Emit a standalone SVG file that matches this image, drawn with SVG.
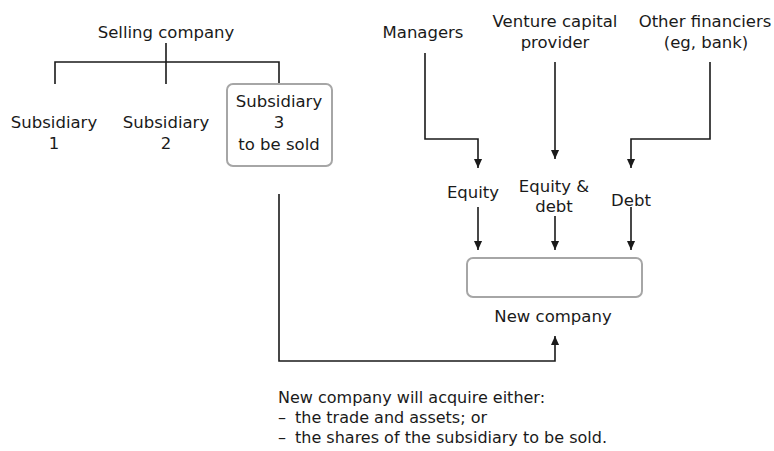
<svg xmlns="http://www.w3.org/2000/svg" width="774" height="451" viewBox="0 0 774 451">
  <style>
    text { font-family: "DejaVu Sans", "Liberation Sans", sans-serif; font-size: 16.5px; fill: #1a1a1a; }
    .c { text-anchor: middle; }
    .note { font-size: 16px; }
    .box { fill: #ffffff; stroke: #a6a6a6; stroke-width: 2; }
    .ln { fill: none; stroke: #1a1a1a; stroke-width: 1.6; }
    .arr { fill: none; stroke: #1a1a1a; stroke-width: 1.6; marker-end: url(#head); }
  </style>
  <defs>
    <marker id="head" viewBox="0 0 10 10" refX="10" refY="5" markerUnits="userSpaceOnUse" markerWidth="10" markerHeight="9" orient="auto">
      <path d="M0,0.5 L10,5 L0,9.5 z" fill="#1a1a1a"/>
    </marker>
  </defs>
  <rect width="774" height="451" fill="#ffffff"/>

  <g id="connectors">
    <!-- ownership tree -->
    <path class="ln" d="M166 43 V62 M55 84 V62 H279 V84 M166 62 V84"/>
    <!-- subsidiary 3 into new company -->
    <path class="arr" d="M279 194 V361 H555 V336"/>
    <!-- financiers -->
    <path class="arr" d="M425 53 V139 H478 V168"/>
    <path class="arr" d="M555 62 V159"/>
    <path class="arr" d="M710 62 V139 H631 V168"/>
    <!-- funds into new company -->
    <path class="arr" d="M478 207 V250"/>
    <path class="arr" d="M555 216 V250"/>
    <path class="arr" d="M631 207 V250"/>
  </g>

  <g id="selling-company">
    <text class="c" x="166" y="38">Selling company</text>
  </g>
  <g id="subsidiary-1">
    <text class="c" x="54" y="128">Subsidiary</text>
    <text class="c" x="54" y="149">1</text>
  </g>
  <g id="subsidiary-2">
    <text class="c" x="166" y="128">Subsidiary</text>
    <text class="c" x="166" y="149">2</text>
  </g>
  <g id="subsidiary-3">
    <rect class="box" x="227" y="84" width="105" height="82" rx="6"/>
    <text class="c" x="279" y="107">Subsidiary</text>
    <text class="c" x="279" y="128">3</text>
    <text class="c" x="279" y="150">to be sold</text>
  </g>
  <g id="managers">
    <text class="c" x="423" y="38">Managers</text>
  </g>
  <g id="venture-capital">
    <text class="c" x="555" y="27">Venture capital</text>
    <text class="c" x="555" y="48">provider</text>
  </g>
  <g id="other-financiers">
    <text class="c" x="705" y="27">Other financiers</text>
    <text class="c" x="706" y="48">(eg, bank)</text>
  </g>
  <g id="equity">
    <text class="c" x="473" y="198">Equity</text>
  </g>
  <g id="equity-debt">
    <text class="c" x="554" y="192">Equity &amp;</text>
    <text class="c" x="554" y="212">debt</text>
  </g>
  <g id="debt">
    <text class="c" x="631" y="206">Debt</text>
  </g>
  <g id="new-company">
    <rect class="box" x="467" y="258" width="175" height="39" rx="6"/>
    <text class="c" x="553" y="322">New company</text>
  </g>
  <g id="note">
    <text class="note" x="278" y="403">New company will acquire either:</text>
    <text class="note" x="278" y="423">–</text>
    <text class="note" x="295" y="423">the trade and assets; or</text>
    <text class="note" x="278" y="443">–</text>
    <text class="note" x="295" y="443">the shares of the subsidiary to be sold.</text>
  </g>
</svg>
